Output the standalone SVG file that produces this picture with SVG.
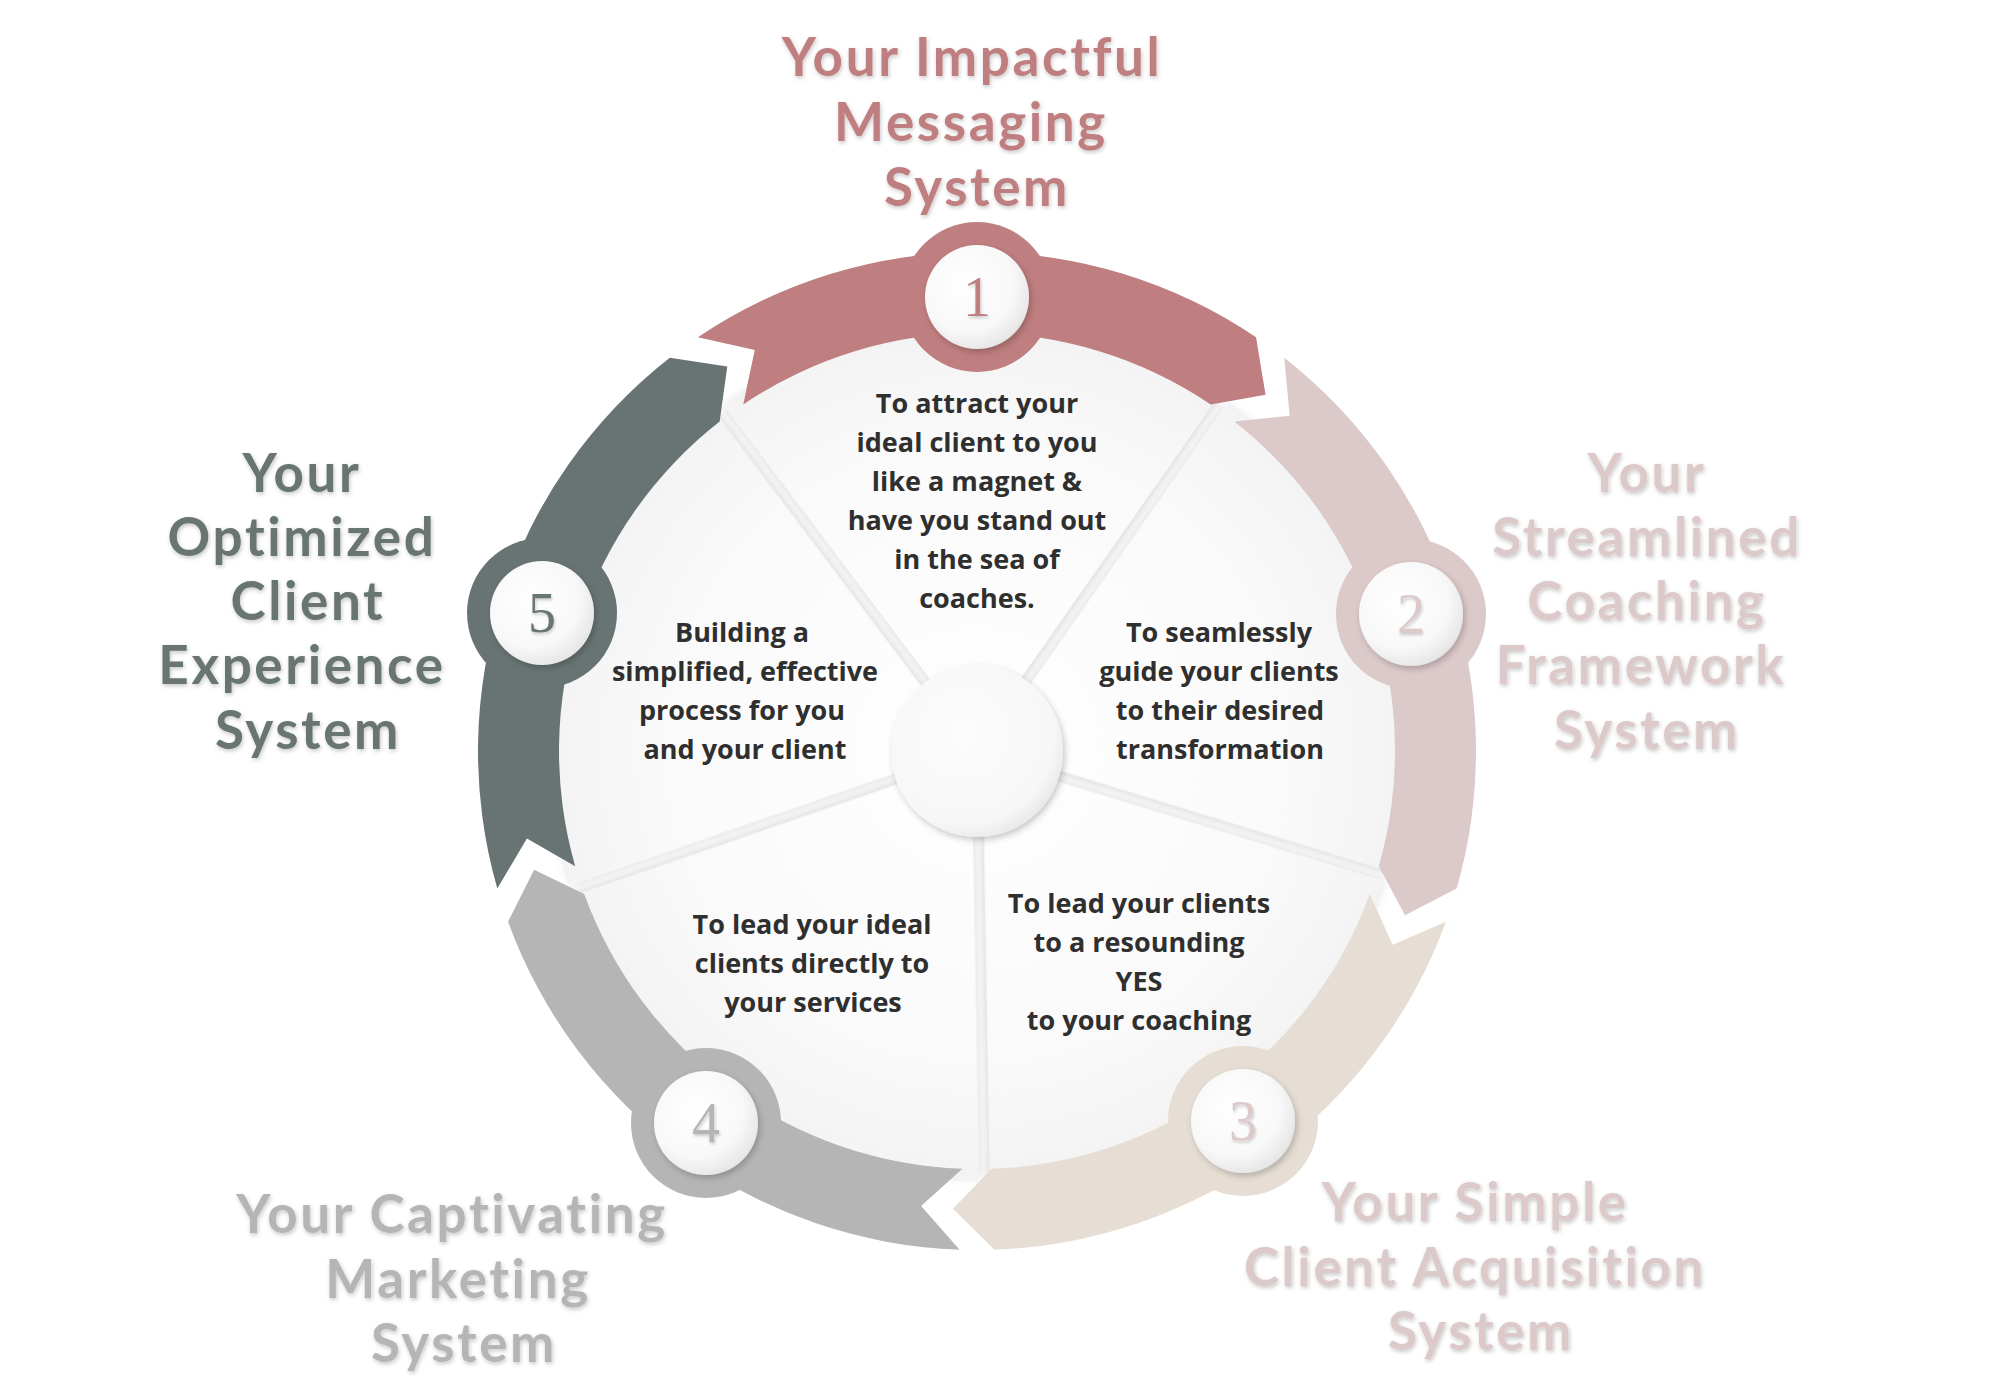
<svg xmlns="http://www.w3.org/2000/svg" width="2000" height="1400" viewBox="0 0 2000 1400">
<defs>
<style>
.title{font-family:Lato,"Open Sans","Liberation Sans",sans-serif;font-weight:700;font-size:53px;letter-spacing:2.6px;text-anchor:middle;filter:url(#tshadow)}
.body{font-family:"Open Sans","Liberation Sans",sans-serif;font-weight:700;font-size:27px;fill:#2f2f2f;text-anchor:middle}
.num{font-family:"Liberation Serif","DejaVu Serif",serif;font-size:56px;text-anchor:middle;filter:url(#nshadow)}
.c1{fill:#BF7E7F}.c2{fill:#DCC9CA}.c3{fill:#E6DED4}.c4{fill:#B5B5B5}.c5{fill:#687473}
.wedge{fill:url(#wfill);filter:url(#wshadow)}
.knob{fill:url(#kfill);filter:url(#kshadow)}
</style>
<filter id="tshadow" x="-20%" y="-30%" width="140%" height="160%">
<feDropShadow dx="1" dy="2" stdDeviation="2" flood-color="#000" flood-opacity="0.22"/>
</filter>
<filter id="nshadow" x="-30%" y="-30%" width="160%" height="160%">
<feDropShadow dx="1" dy="2" stdDeviation="1.5" flood-color="#000" flood-opacity="0.2"/>
</filter>
<filter id="wshadow" x="-20%" y="-20%" width="140%" height="140%">
<feDropShadow dx="1" dy="3" stdDeviation="4" flood-color="#000" flood-opacity="0.16"/>
</filter>
<filter id="kshadow" x="-30%" y="-30%" width="160%" height="160%">
<feDropShadow dx="2" dy="3" stdDeviation="3" flood-color="#000" flood-opacity="0.22"/>
</filter>
<radialGradient id="wfill" gradientUnits="userSpaceOnUse" cx="977" cy="751" r="430">
<stop offset="0" stop-color="#FFFFFF"/>
<stop offset="0.7" stop-color="#FAFAFA"/>
<stop offset="1" stop-color="#F3F3F3"/>
</radialGradient>
<radialGradient id="kfill" cx="0.4" cy="0.38" r="0.65">
<stop offset="0" stop-color="#FFFFFF"/>
<stop offset="0.7" stop-color="#F8F8F8"/>
<stop offset="1" stop-color="#E6E6E6"/>
</radialGradient>
<radialGradient id="hfill" cx="0.42" cy="0.4" r="0.62">
<stop offset="0" stop-color="#FCFCFC"/>
<stop offset="0.85" stop-color="#F7F7F7"/>
<stop offset="1" stop-color="#EAEAEA"/>
</radialGradient>
<path id="seg" d="M 697.96 337.31 A 499 499 0 0 1 1256.04 337.31 L 1265.54 394.68 L 1210.74 404.46 A 418 418 0 0 0 743.26 404.46 L 754.71 349.99 Z"/>
<path id="wedge" d="M 945.68 699.47 L 723.01 403.97 A 430 430 0 0 1 1218.73 395.33 L 1006.50 698.41 Z"/>
</defs>
<rect width="2000" height="1400" fill="#FFFFFF"/>

<g id="panels">
<use href="#wedge" class="wedge"/>
<use href="#wedge" class="wedge" transform="rotate(72 977 751)"/>
<use href="#wedge" class="wedge" transform="rotate(144 977 751)"/>
<use href="#wedge" class="wedge" transform="rotate(216 977 751)"/>
<use href="#wedge" class="wedge" transform="rotate(288 977 751)"/>
</g>

<g id="hub">
<circle cx="977" cy="751" r="86" fill="url(#hfill)" filter="url(#kshadow)"/>
</g>

<g id="connectors">
<use href="#seg" class="c1"/>
<use href="#seg" class="c2" transform="rotate(72 977 751)"/>
<use href="#seg" class="c3" transform="rotate(144 977 751)"/>
<use href="#seg" class="c4" transform="rotate(216 977 751)"/>
<use href="#seg" class="c5" transform="rotate(288 977 751)"/>
</g>

<g id="step1">
<circle cx="977" cy="297" r="75" class="c1"/>
<circle cx="977" cy="297" r="52" class="knob"/>
<text x="977" y="316" class="num c1">1</text>
<text class="title c1"><tspan x="972" y="76">Your Impactful</tspan><tspan x="971" y="141">Messaging</tspan><tspan x="977" y="206">System</tspan></text>
<text class="body"><tspan x="977" y="413">To attract your</tspan><tspan x="977" y="452">ideal client to you</tspan><tspan x="977" y="491">like a magnet &amp;</tspan><tspan x="977" y="530">have you stand out</tspan><tspan x="977" y="569">in the sea of</tspan><tspan x="977" y="608">coaches.</tspan></text>
</g>

<g id="step2">
<circle cx="1411" cy="614" r="75" class="c2"/>
<circle cx="1411" cy="614" r="52" class="knob"/>
<text x="1411" y="633" class="num c2">2</text>
<text class="title c2"><tspan x="1647" y="492">Your</tspan><tspan x="1647" y="556">Streamlined</tspan><tspan x="1647" y="620">Coaching</tspan><tspan x="1641" y="684">Framework</tspan><tspan x="1647" y="749">System</tspan></text>
<text class="body"><tspan x="1219" y="642">To seamlessly</tspan><tspan x="1219" y="681">guide your clients</tspan><tspan x="1220" y="720">to their desired</tspan><tspan x="1220" y="759">transformation</tspan></text>
</g>

<g id="step3">
<circle cx="1243" cy="1121" r="75" class="c3"/>
<circle cx="1243" cy="1121" r="52" class="knob"/>
<text x="1243" y="1140" class="num c2">3</text>
<text class="title c2"><tspan x="1475" y="1221">Your Simple</tspan><tspan x="1475" y="1286">Client Acquisition</tspan><tspan x="1481" y="1350">System</tspan></text>
<text class="body"><tspan x="1139" y="913">To lead your clients</tspan><tspan x="1139" y="952">to a resounding</tspan><tspan x="1139" y="991">YES</tspan><tspan x="1139" y="1030">to your coaching</tspan></text>
</g>

<g id="step4">
<circle cx="706" cy="1123" r="75" class="c4"/>
<circle cx="706" cy="1123" r="52" class="knob"/>
<text x="706" y="1142" class="num c4">4</text>
<text class="title c4"><tspan x="452" y="1233">Your Captivating</tspan><tspan x="458" y="1298">Marketing</tspan><tspan x="464" y="1362">System</tspan></text>
<text class="body"><tspan x="812" y="934">To lead your ideal</tspan><tspan x="812" y="973">clients directly to</tspan><tspan x="813" y="1012">your services</tspan></text>
</g>

<g id="step5">
<circle cx="542" cy="613" r="75" class="c5"/>
<circle cx="542" cy="613" r="52" class="knob"/>
<text x="542" y="632" class="num c5">5</text>
<text class="title c5"><tspan x="302" y="492">Your</tspan><tspan x="302" y="556">Optimized</tspan><tspan x="308" y="620">Client</tspan><tspan x="302" y="684">Experience</tspan><tspan x="308" y="749">System</tspan></text>
<text class="body"><tspan x="742" y="642">Building a</tspan><tspan x="745" y="681">simplified, effective</tspan><tspan x="742" y="720">process for you</tspan><tspan x="745" y="759">and your client</tspan></text>
</g>
</svg>
